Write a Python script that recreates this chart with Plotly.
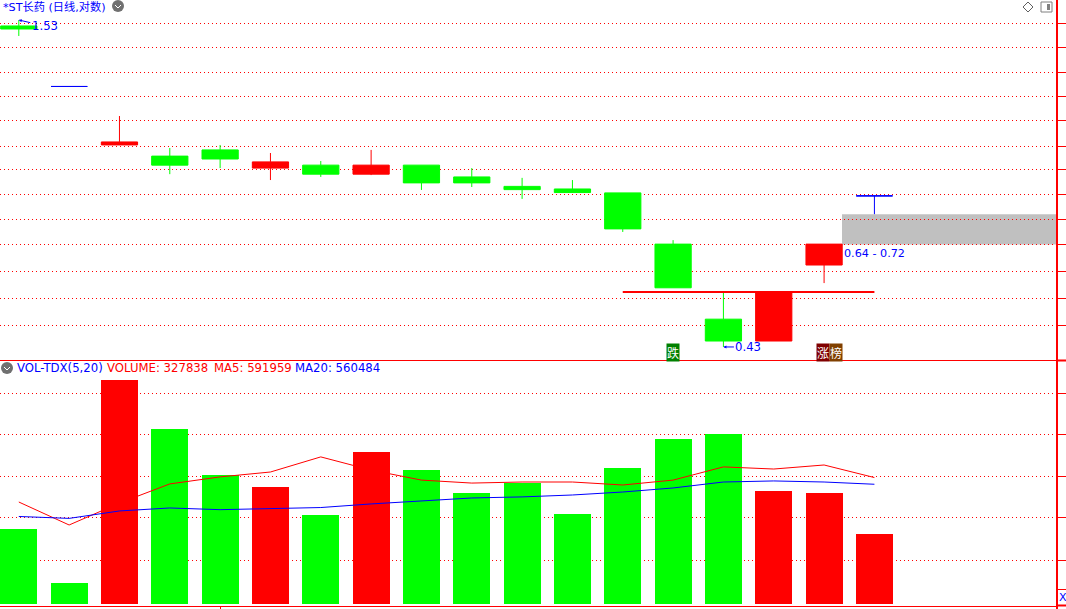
import math
import plotly.graph_objects as go

# ---- data ----
idx = list(range(18))
price_high = [1.53, 1.182, 1.054, 0.931, 0.942, 0.913, 0.885, 0.924, 0.871, 0.861, 0.829, 0.822, 0.782, 0.651, 0.532, 0.532, 0.641, 0.773]
price_low = [1.438, 1.182, 0.942, 0.841, 0.861, 0.822, 0.832, 0.838, 0.791, 0.800, 0.764, 0.782, 0.672, 0.541, 0.43, 0.44, 0.551, 0.72]
body_top = [1.495, 1.182, 0.953, 0.902, 0.924, 0.882, 0.871, 0.871, 0.871, 0.832, 0.802, 0.794, 0.782, 0.641, 0.479, 0.532, 0.641, 0.773]
body_bot = [1.4775, 1.182, 0.942, 0.871, 0.892, 0.861, 0.841, 0.841, 0.813, 0.813, 0.792, 0.783, 0.68, 0.541, 0.44, 0.44, 0.591, 0.773]
candle_kind = ["d", "f", "u", "d", "d", "u", "d", "u", "d", "d", "d", "d", "d", "d", "d", "u", "u", "f"]

volume = [350000, 96000, 1050000, 820000, 604000, 548000, 416000, 712000, 627000, 519000, 566000, 421000, 637000, 773000, 797000, 529000, 519000, 327838]
vol_kind = ["d", "d", "u", "d", "d", "u", "d", "u", "d", "d", "d", "d", "d", "d", "d", "u", "u", "u"]
ma5 = [477000, 369000, 472000, 562000, 595000, 618000, 689000, 627000, 580000, 566000, 571000, 571000, 557000, 580000, 642000, 632000, 651000, 591959]
ma20 = [409000, 400000, 435000, 449000, 441000, 447000, 451000, 468000, 483000, 496000, 501000, 510000, 524000, 543000, 571000, 576000, 571000, 560484]

price_ticks = [1.509, 1.375, 1.250, 1.137, 1.034, 0.938, 0.855, 0.776, 0.704, 0.641, 0.577, 0.518, 0.4665]
volume_ticks = [204000, 402000, 597000, 792000, 987000]
ref_price = 0.532
zone_low, zone_high = 0.64, 0.72
price_max_label, price_min_label = 1.53, 0.43

RED = "#ff0000"
GREEN = "#00ff00"
BLUE = "#0000ff"
FONT = "'DejaVu Sans', 'Noto Sans CJK SC', sans-serif"
W, H = 1066, 609
PW, PB = 1056, 606


def px(x):
    return x / PW


def py(y):
    return (PB - y) / PB


fig = go.Figure()


def candles(kind, color):
    s = [i for i in idx if candle_kind[i] == kind]
    up = kind == "u"
    fig.add_trace(go.Candlestick(
        x=s,
        open=[body_bot[i] if up else body_top[i] for i in s],
        close=[body_top[i] if up else body_bot[i] for i in s],
        high=[price_high[i] for i in s],
        low=[price_low[i] for i in s],
        increasing=dict(line=dict(color=color, width=1), fillcolor=color),
        decreasing=dict(line=dict(color=color, width=1), fillcolor=color),
        whiskerwidth=0, xaxis="x2", yaxis="y", showlegend=False,
    ))


candles("u", RED)
candles("d", GREEN)
candles("f", BLUE)

fig.add_trace(go.Scatter(x=[12, 17], y=[ref_price, ref_price], mode="lines",
                         line=dict(color=RED, width=2), xaxis="x2", yaxis="y", showlegend=False))

fig.add_trace(go.Bar(x=idx, y=volume, width=0.735,
                     marker=dict(color=[RED if k == "u" else GREEN for k in vol_kind], line=dict(width=0)),
                     xaxis="x", yaxis="y2", showlegend=False))
fig.add_trace(go.Scatter(x=idx, y=ma5, mode="lines", line=dict(color=RED, width=1),
                         xaxis="x", yaxis="y2", showlegend=False))
fig.add_trace(go.Scatter(x=idx, y=ma20, mode="lines", line=dict(color=BLUE, width=1),
                         xaxis="x", yaxis="y2", showlegend=False))

x0_px, step_px = 18.8, 50.33
xr = [-x0_px / step_px, (PW - x0_px) / step_px]
split = py(360)
k = 257.6
ytop = 1.53 * math.exp(20 / k)
ybot = 1.53 * math.exp(-(360 - 20) / k)

shapes = [
    dict(type="rect", xref="x2", yref="y", x0=(842 - x0_px) / step_px, x1=xr[1], y0=zone_low, y1=zone_high,
         fillcolor="#c0c0c0", line=dict(width=0), layer="below"),
]


def seg(x0, y0, x1, y1, color=RED, width=1):
    shapes.append(dict(type="line", xref="paper", yref="paper", x0=px(x0), x1=px(x1), y0=py(y0), y1=py(y1),
                       line=dict(color=color, width=width)))


seg(1057, 360.5, 1066, 360.5, RED, 2)
seg(1057, 589.5, 1066, 589.5, RED, 1)
seg(1057, 605.5, 1066, 605.5, RED, 2)
seg(1057, 606, 1057, 609, RED, 2)
# toolbar glyphs
shapes.append(dict(type="circle", xref="paper", yref="paper", x0=px(112), x1=px(124), y0=py(12), y1=py(0),
                   fillcolor="#707070", line=dict(width=0)))
seg(115, 5, 118, 8, "#ffffff", 1)
seg(118, 8, 121, 5, "#ffffff", 1)
shapes.append(dict(type="circle", xref="paper", yref="paper", x0=px(1), x1=px(13), y0=py(374), y1=py(362),
                   fillcolor="#707070", line=dict(width=0)))
seg(4, 367, 7, 370, "#ffffff", 1)
seg(7, 370, 10, 367, "#ffffff", 1)
seg(1028, 2, 1033, 7, "#606060", 1)
seg(1033, 7, 1028, 12, "#606060", 1)
seg(1028, 12, 1023, 7, "#606060", 1)
seg(1023, 7, 1028, 2, "#606060", 1)
shapes.append(dict(type="rect", xref="paper", yref="paper", x0=px(1041), x1=px(1052), y0=py(12), y1=py(2),
                   fillcolor="#ffffff", line=dict(color="#808080", width=1)))
shapes.append(dict(type="rect", xref="paper", yref="paper", x0=px(1047), x1=px(1050), y0=py(10), y1=py(4),
                   fillcolor="#808080", line=dict(width=0)))


def label(text, x, y, color=BLUE, size=11.7):
    return dict(text=text, xref="paper", yref="paper", x=px(x), y=py(y), showarrow=False,
                xanchor="left", yanchor="middle", xshift=-2, font=dict(family=FONT, size=size, color=color))


def price_flag(text, i, price, ax, ay):
    return dict(text=text, xref="x2", yref="y", x=i, y=math.log10(price), ax=ax, ay=ay, showarrow=True,
                arrowhead=2, arrowsize=0.6, arrowwidth=1, arrowcolor=BLUE,
                font=dict(family=FONT, size=11.7, color=BLUE))


def badge(text, x, color):
    return dict(text=text, xref="paper", yref="paper", x=px(x), y=py(352.5), showarrow=False, bgcolor=color,
                xanchor="center", yanchor="middle", borderpad=0,
                font=dict(family="Noto Sans CJK SC", size=12, color="#ffffff"))


annotations = [
    label("*ST长药 (日线,对数)", 3, 6.5, BLUE, 11.2),
    label("0.64 - 0.72", 844, 254, BLUE, 11.2),
    label("VOL-TDX(5,20)", 17, 368.5),
    label("VOLUME: 327838", 107, 368.5, RED),
    label("MA5: 591959", 214, 368.5, RED),
    label("MA20: 560484", 295, 368.5),
    label("X", 1059, 597, BLUE, 11),
    price_flag(f"{price_max_label:.2f}", 0, price_max_label, 26, 6),
    price_flag(f"{price_min_label:.2f}", 14, price_min_label, 25, 0),
    badge("跌", 672.5, "#008000"),
    badge("涨", 823, "#800000"),
    badge("榜", 835.5, "#804000"),
]

grid = dict(showgrid=True, gridcolor=RED, griddash="1px,3px", gridwidth=1)
fig.update_layout(
    width=W, height=H, margin=dict(l=0, r=W - PW, t=0, b=H - PB),
    paper_bgcolor="#ffffff", plot_bgcolor="#ffffff", boxgap=0.28, boxgroupgap=0, showlegend=False,
    shapes=shapes, annotations=annotations, bargap=0,
    xaxis=dict(domain=[0, 1], anchor="y2", range=xr, showgrid=False, zeroline=False, showline=True,
               linecolor=RED, linewidth=1, tickvals=[4], ticks="outside", ticklen=3, tickcolor=RED,
               showticklabels=False),
    xaxis2=dict(domain=[0, 1], anchor="y", matches="x", showgrid=False, zeroline=False, showline=True,
                linecolor=RED, linewidth=1, ticks="", showticklabels=False,
                rangeslider=dict(visible=False)),
    yaxis=dict(domain=[split, 1], type="log", range=[math.log10(ybot), math.log10(ytop)], side="right",
               tickvals=price_ticks, ticks="outside", ticklen=9, tickcolor=RED, tickwidth=1,
               showticklabels=False, showline=True, linecolor=RED, linewidth=2, zeroline=False, **grid),
    yaxis2=dict(domain=[0, split], range=[-2.5 * 4700, 243.5 * 4700], side="right",
                tickvals=volume_ticks, ticks="outside", ticklen=9, tickcolor=RED, tickwidth=1,
                showticklabels=False, showline=True, linecolor=RED, linewidth=2, zeroline=False, **grid),
)

fig.write_html("out.html", config=dict(displayModeBar=False),
               post_script="document.body.style.margin='0';document.documentElement.style.overflow='hidden';")
